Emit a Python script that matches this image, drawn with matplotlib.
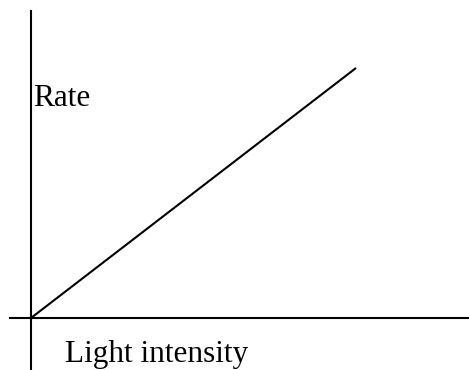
import matplotlib
matplotlib.use('Agg')
import matplotlib.pyplot as plt

intensity = [0, 1.3]
rate = [0, 1.0]

PX = 250.0  # pixels per data unit

fig = plt.figure(figsize=(4.69, 3.70), dpi=100)
ax = fig.add_axes([0, 0, 1, 1])
ax.set_xlim(-31 / PX, (469 - 31) / PX)
ax.set_ylim(-(370 - 318) / PX, 318 / PX)

ax.plot(intensity, rate, color='black', linewidth=1.5, solid_capstyle='butt')

for side in ['top', 'right']:
    ax.spines[side].set_visible(False)
ax.spines['left'].set_position(('data', 0))
ax.spines['bottom'].set_position(('data', 0))
ax.spines['left'].set_bounds(-(370 - 318) / PX, (318 - 11) / PX)
ax.spines['bottom'].set_bounds(-21 / PX, (469 - 31) / PX)
for side in ['left', 'bottom']:
    ax.spines[side].set_linewidth(1.5)
ax.set_xticks([])
ax.set_yticks([])
ax.patch.set_alpha(0)

font = dict(family='Liberation Serif', size=22.5)
ax.text(2 / PX, (318 - 106) / PX, 'Rate', ha='left', va='baseline', **font)
ax.text(34 / PX, -(362 - 318) / PX, 'Light intensity', ha='left', va='baseline', **font)

fig.savefig('out.png', dpi=100)
